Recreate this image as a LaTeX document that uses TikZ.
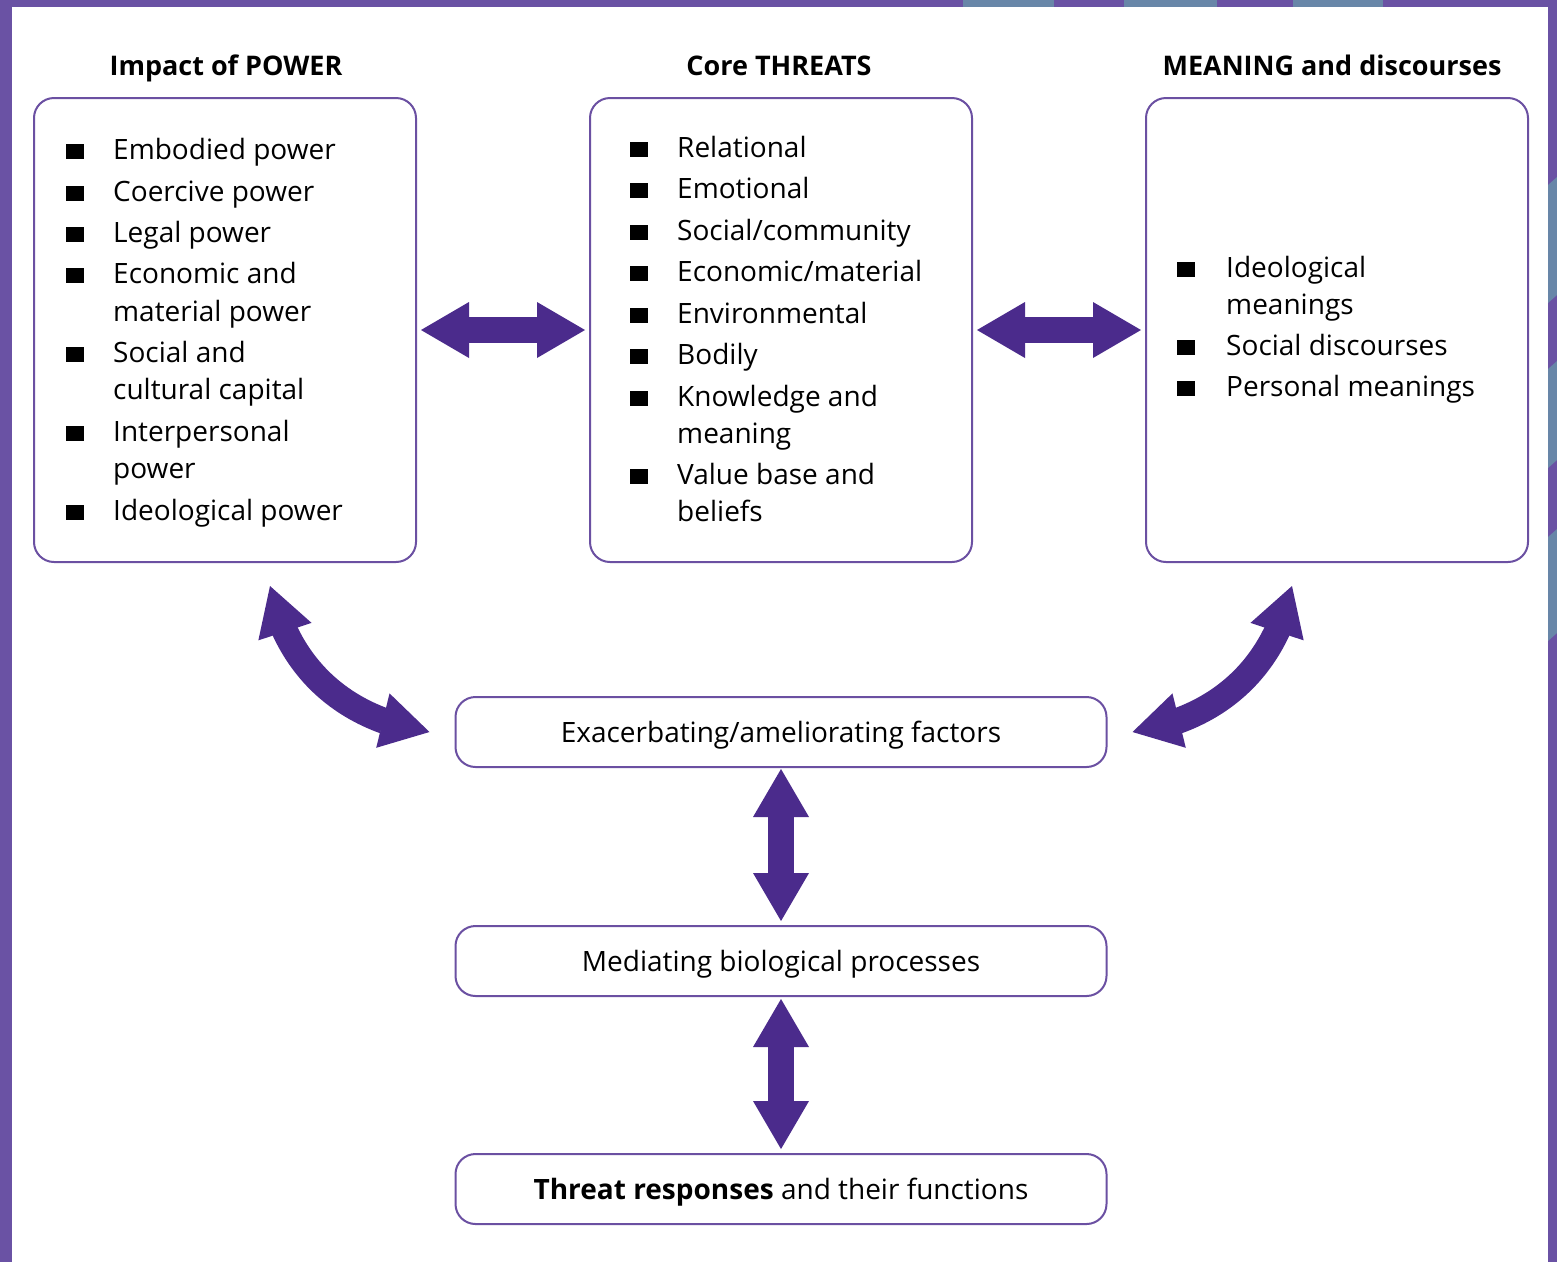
\documentclass[tikz,border=0pt]{standalone}
\usepackage{fontspec}
\setmainfont{Open Sans}
\usetikzlibrary{arrows.meta,bending,calc}
\definecolor{framec}{RGB}{106,82,164}
\definecolor{frameblue}{RGB}{104,134,168}
\definecolor{boxline}{RGB}{107,80,162}
\definecolor{arrowc}{RGB}{75,43,140}
\tikzset{
  bigbox/.style={draw=boxline, line width=2pt, rounded corners=20pt, minimum width=382pt, minimum height=464pt, inner sep=0pt},
  lowbox/.style={draw=boxline, line width=2pt, rounded corners=20pt, minimum width=651pt, minimum height=70pt, inner sep=0pt, font=\fontsize{28}{34}\selectfont, text height=20pt, text depth=0pt},
  titlelabel/.style={font=\fontsize{27}{32}\selectfont\bfseries, anchor=base, inner sep=0pt},
  itemtext/.style={font=\fontsize{28}{34}\selectfont, anchor=base west, inner sep=0pt},
  bulletsq/.style={fill=black, minimum width=18pt, minimum height=15pt, inner sep=0pt, anchor=south west},
  bigarrow/.style={draw=arrowc, line width=26pt, arrows={Triangle[width=56pt,length=48pt,line width=0pt,flex]-Triangle[width=56pt,length=48pt,line width=0pt,flex]}}
}
\begin{document}
\begin{tikzpicture}[x=1pt,y=1pt]
\useasboundingbox (0,0) rectangle (1557,-1262);
\fill[white] (0,0) rectangle (1557,-1262);
% frame
\fill[framec] (0,0) rectangle (12,-1262);
\fill[framec] (0,0) rectangle (1557,-7);
\fill[framec] (1548,0) rectangle (1557,-1262);
\fill[frameblue] (963,0) rectangle (1054,-7);
\fill[frameblue] (1124,0) rectangle (1217,-7);
\fill[frameblue] (1293,0) rectangle (1383,-7);
\fill[frameblue] (1548,-185) -- (1557,-177) -- (1557,-295) -- (1548,-303) -- cycle;
\fill[frameblue] (1548,-369) -- (1557,-361) -- (1557,-460) -- (1548,-468) -- cycle;
\fill[frameblue] (1548,-537) -- (1557,-529) -- (1557,-633) -- (1548,-641) -- cycle;

% big boxes
\node[bigbox] (power) at (225,-330) {};
\node[bigbox] (threats) at (781,-330) {};
\node[bigbox] (meaning) at (1337,-330) {};

\node[titlelabel] (tpower) at (226,-75) {Impact of POWER};
\node[titlelabel] (tthreats) at (779,-75) {Core THREATS};
\node[titlelabel] (tmeaning) at (1332,-75) {MEANING and discourses};

% box 1 items
\node[bulletsq] (pb1) at (66,-159) {};
\node[itemtext] (p1) at (113,-159) {Embodied power};
\node[bulletsq] (pb2) at (66,-201) {};
\node[itemtext] (p2) at (113,-201) {Coercive power};
\node[bulletsq] (pb3) at (66,-242) {};
\node[itemtext] (p3) at (113,-242) {Legal power};
\node[bulletsq] (pb4) at (66,-283) {};
\node[itemtext] (p4) at (113,-283) {Economic and};
\node[itemtext] (p4b) at (113,-321) {material power};
\node[bulletsq] (pb5) at (66,-362) {};
\node[itemtext] (p5) at (113,-362) {Social and};
\node[itemtext] (p5b) at (113,-399) {cultural capital};
\node[bulletsq] (pb6) at (66,-441) {};
\node[itemtext] (p6) at (113,-441) {Interpersonal};
\node[itemtext] (p6b) at (113,-478) {power};
\node[bulletsq] (pb7) at (66,-520) {};
\node[itemtext] (p7) at (113,-520) {Ideological power};

% box 2 items
\node[bulletsq] (tb1) at (630,-157) {};
\node[itemtext] (t1) at (677,-157) {Relational};
\node[bulletsq] (tb2) at (630,-198) {};
\node[itemtext] (t2) at (677,-198) {Emotional};
\node[bulletsq] (tb3) at (630,-240) {};
\node[itemtext] (t3) at (677,-240) {Social/community};
\node[bulletsq] (tb4) at (630,-281) {};
\node[itemtext] (t4) at (677,-281) {Economic/material};
\node[bulletsq] (tb5) at (630,-323) {};
\node[itemtext] (t5) at (677,-323) {Environmental};
\node[bulletsq] (tb6) at (630,-364) {};
\node[itemtext] (t6) at (677,-364) {Bodily};
\node[bulletsq] (tb7) at (630,-406) {};
\node[itemtext] (t7) at (677,-406) {Knowledge and};
\node[itemtext] (t7b) at (677,-443) {meaning};
\node[bulletsq] (tb8) at (630,-484) {};
\node[itemtext] (t8) at (677,-484) {Value base and};
\node[itemtext] (t8b) at (677,-521) {beliefs};

% box 3 items
\node[bulletsq] (mb1) at (1177,-277) {};
\node[itemtext] (m1) at (1226,-277) {Ideological};
\node[itemtext] (m1b) at (1226,-314) {meanings};
\node[bulletsq] (mb2) at (1177,-355) {};
\node[itemtext] (m2) at (1226,-355) {Social discourses};
\node[bulletsq] (mb3) at (1177,-396) {};
\node[itemtext] (m3) at (1226,-396) {Personal meanings};

% lower boxes
\node[lowbox] (exa) at (781,-732) {Exacerbating/ameliorating factors};
\node[lowbox] (med) at (781,-961) {Mediating biological processes};
\node[lowbox] (thr) at (781,-1189) {{\bfseries Threat responses} and their functions};

% arrows
\draw[bigarrow] ([xshift=4pt]power.east) -- ([xshift=-4pt]threats.west);
\draw[bigarrow] ([xshift=4pt]threats.east) -- ([xshift=-4pt]meaning.west);
\draw[bigarrow] ([yshift=-1pt]exa.south) -- ([yshift=4pt]med.north);
\draw[bigarrow] ([yshift=-2pt]med.south) -- ([yshift=4pt]thr.north);
\draw[bigarrow] ([shift={(45pt,-23pt)}]power.south) to[out=-78,in=172] ([xshift=-25pt]exa.west);
\draw[bigarrow] ([shift={(-45pt,-23pt)}]meaning.south) to[out=-102,in=8] ([xshift=25pt]exa.east);
\end{tikzpicture}
\end{document}
